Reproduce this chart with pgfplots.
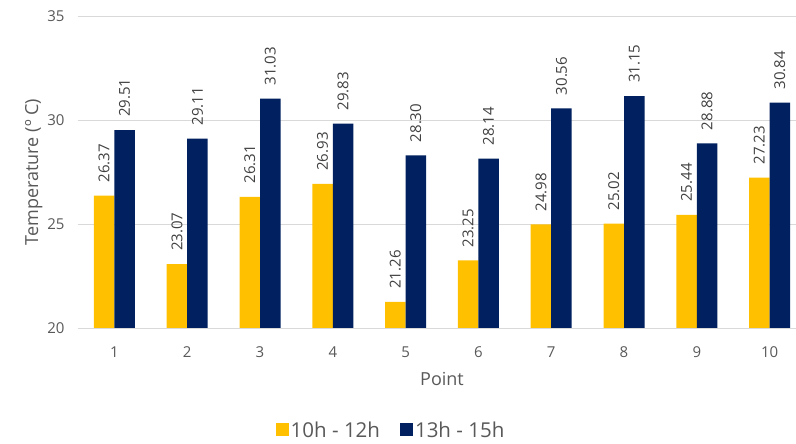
\documentclass[border=0pt]{standalone}
\usepackage{fontspec}
\setmainfont{Open Sans}
\usepackage{pgfplots}
\pgfplotsset{compat=1.18}
\definecolor{yel}{HTML}{FFC000}
\definecolor{navy}{HTML}{002060}
\definecolor{txt}{HTML}{595959}
\definecolor{grd}{HTML}{D9D9D9}
\begin{document}
\begin{tikzpicture}
% the reference is cropped on the right, so fix the canvas first
\useasboundingbox (-78pt,-116pt) rectangle (718pt,328pt);
\begin{axis}[name=ax,
  at={(0,0)}, anchor=south west,
  scale only axis, width=728pt, height=312pt,
  ybar=0pt, bar width=20.5pt,
  xmin=0.5, xmax=10.5, ymin=20, ymax=35,
  xtick={1,...,10}, ytick={20,25,30,35},
  ymajorgrids, grid style={grd, line width=0.8pt},
  axis line style={draw=none},
  major tick length=0pt,
  tick label style={font=\fontsize{15}{18}\selectfont, text=txt},
  xticklabel style={yshift=-15pt},
  yticklabel style={xshift=-10pt},
  /pgf/number format/assume math mode=true,
  xlabel={Point}, ylabel={Temperature (º C)},
  label style={font=\fontsize{18}{21}\selectfont, text=txt},
  xlabel style={yshift=-8pt},
  ylabel style={yshift=-2pt},
  nodes near coords,
  every node near coord/.append style={rotate=90, anchor=west, inner xsep=13pt, font=\fontsize{15}{18}\selectfont, text=black!75, /pgf/number format/.cd, fixed, fixed zerofill, precision=2},
  legend style={draw=none, at={(0.430,-0.327)}, anchor=center, legend columns=2, font=\fontsize{20.5}{24}\selectfont, text=txt, /tikz/every even column/.append style={column sep=18pt}},
  legend image code/.code={\fill[#1] (-4pt,-6pt) rectangle (9pt,7pt);},
  clip=true,
]
\addplot[fill=yel, draw=none] coordinates {(1,26.37) (2,23.07) (3,26.31) (4,26.93) (5,21.26) (6,23.25) (7,24.98) (8,25.02) (9,25.44) (10,27.23)};
\addplot[fill=navy, draw=none] coordinates {(1,29.51) (2,29.11) (3,31.03) (4,29.83) (5,28.30) (6,28.14) (7,30.56) (8,31.15) (9,28.88) (10,30.84)};
\legend{10h - 12h, 13h - 15h}
\end{axis}
\draw[grd, line width=0.8pt] (ax.south west) -- (ax.south east);
\end{tikzpicture}
\end{document}
